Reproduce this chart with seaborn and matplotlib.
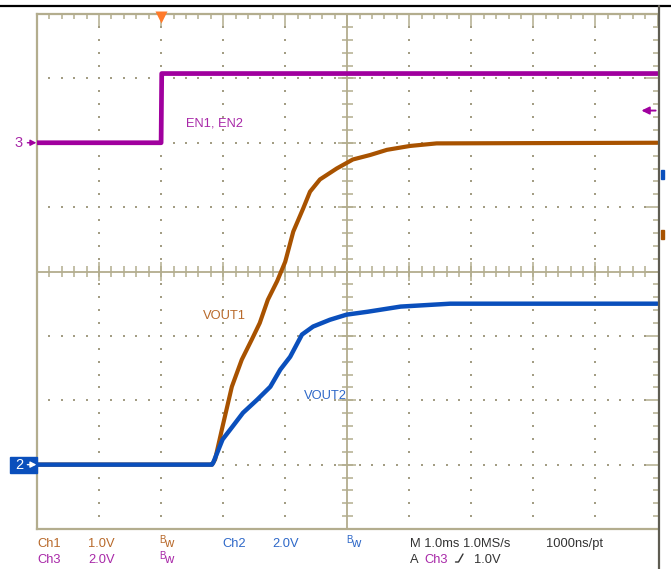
import numpy as np
import pandas as pd
import seaborn as sns
import matplotlib.pyplot as plt
from matplotlib.patches import Rectangle
from matplotlib.lines import Line2D
from matplotlib.transforms import blended_transform_factory

# scope settings (volts per division, ground offset in divisions)
ch1_scale, ch1_offset = 1.0, -3.0
ch2_scale, ch2_offset = 2.0, -3.0
ch3_scale, ch3_offset = 2.0, 2.0
trig_level = 1.0  # V on Ch3

# time in ms (trigger at 0), values in volts
en_t = [-2.0, 0.0, 0.01, 8.0]
en_v = [0.0, 0.0, 2.15, 2.15]

vout1_t = [-2.0, 0.82, 0.87, 0.99, 1.14, 1.30, 1.46, 1.59, 1.72, 1.87, 2.00,
           2.13, 2.29, 2.40, 2.56, 2.83, 3.09, 3.37, 3.64, 4.01, 4.44, 8.0]
vout1_v = [0.0, 0.0, 0.08, 0.59, 1.21, 1.63, 1.94, 2.20, 2.56, 2.85, 3.15,
           3.62, 3.98, 4.24, 4.43, 4.60, 4.74, 4.81, 4.89, 4.95, 4.99, 5.0]

vout2_t = [-2.0, 0.82, 0.84, 0.99, 1.15, 1.32, 1.55, 1.76, 1.92, 2.08, 2.27,
           2.45, 2.72, 2.99, 3.33, 3.86, 4.66, 8.0]
vout2_v = [0.0, 0.0, 0.06, 0.78, 1.18, 1.61, 2.02, 2.42, 2.95, 3.35, 4.04,
           4.29, 4.50, 4.66, 4.75, 4.91, 5.0, 5.0]

tan = "#b3ad8e"
dot = "#a39d84"
c_orange, c_orange_txt = "#a85200", "#b8692a"
c_blue, c_blue_txt = "#0a4fbc", "#2e68c8"
c_purple, c_purple_txt = "#a0009e", "#a828a8"

sns.set_style("white")
plt.rcParams["font.family"] = ["Liberation Sans", "DejaVu Sans"]

W, H = 671, 569
fig = plt.figure(figsize=(W / 100, H / 100), dpi=100)
ax = fig.add_axes([37 / W, 1 - 529 / H, 620.5 / W, 515 / H])
ax.set_xlim(-2, 8)
ax.set_ylim(-4, 4)

# graticule
ax.set_xticks(np.arange(-2, 8.01, 1))
ax.set_xticks(np.arange(-2, 8.01, 0.2), minor=True)
ax.set_yticks(np.arange(-4, 4.01, 1))
ax.set_yticks(np.arange(-4, 4.01, 0.2), minor=True)
ax.tick_params(which="both", direction="in", color=tan, width=1.1,
               top=True, right=True, labelbottom=False, labelleft=False)
ax.tick_params(which="major", length=8.6)
ax.tick_params(which="minor", length=3.6)
for s in ["top", "bottom", "left"]:
    ax.spines[s].set_color(tan)
    ax.spines[s].set_linewidth(1.6)
ax.spines["right"].set_visible(False)

minor_x = np.round(np.arange(-1.8, 8, 0.2), 2)
minor_y = np.round(np.arange(-3.8, 4, 0.2), 2)
for gx in [-1, 0, 1, 2, 4, 5, 6, 7]:
    ax.scatter(np.full(len(minor_y), gx), minor_y, s=1.6, marker="s",
               color=dot, linewidths=0, zorder=1)
for gy in [-3, -2, -1, 1, 2, 3]:
    ax.scatter(minor_x, np.full(len(minor_x), gy), s=1.6, marker="s",
               color=dot, linewidths=0, zorder=1)

ax.axvline(3, color=tan, lw=1.3, zorder=1)
ax.axhline(0, color=tan, lw=1.3, zorder=1)
ax.hlines(minor_y, 3 - 0.089, 3 + 0.089, color=tan, lw=1.1, zorder=1)
ax.hlines(np.arange(-3, 4, 1), 3 - 0.145, 3 + 0.145, color=tan, lw=1.1, zorder=1)
ax.vlines(minor_x, -0.085, 0.085, color=tan, lw=1.1, zorder=1)
ax.vlines(np.arange(-1, 8, 1), -0.14, 0.14, color=tan, lw=1.1, zorder=1)

# traces
df = pd.concat([
    pd.DataFrame({"t": en_t, "div": np.array(en_v) / ch3_scale + ch3_offset, "ch": "EN"}),
    pd.DataFrame({"t": vout1_t, "div": np.array(vout1_v) / ch1_scale + ch1_offset, "ch": "VOUT1"}),
    pd.DataFrame({"t": vout2_t, "div": np.array(vout2_v) / ch2_scale + ch2_offset, "ch": "VOUT2"}),
])
for ch, col, lw in [("EN", c_purple, 3.4), ("VOUT1", c_orange, 3.0), ("VOUT2", c_blue, 3.2)]:
    sns.lineplot(data=df[df["ch"] == ch], x="t", y="div", color=col, lw=lw,
                 sort=False, estimator=None, ax=ax, zorder=3)
ax.set_xlabel("")
ax.set_ylabel("")

ax.text(0.40, 2.25, "EN1, EN2", color=c_purple_txt, fontsize=9.3)
ax.text(0.68, -0.74, "VOUT1", color=c_orange_txt, fontsize=9.3)
ax.text(2.30, -1.98, "VOUT2", color=c_blue_txt, fontsize=9.3)

# trigger position marker
ax.plot([0], [3.955], marker="v", ms=9, color="#ff7a2a", mec="none",
        clip_on=False, zorder=5)

# ground markers
bl = blended_transform_factory(ax.transAxes, ax.transData)
arrow = dict(arrowstyle="-|>,head_length=0.35,head_width=0.18",
             lw=1, shrinkA=0, shrinkB=0)
ax.text(-0.029, ch3_offset, "3", color=c_purple_txt, fontsize=10.5,
        transform=bl, ha="center", va="center")
ax.annotate("", xy=(-0.001, ch3_offset), xytext=(-0.0155, ch3_offset),
            xycoords=bl, textcoords=bl, arrowprops=dict(arrow, color=c_purple))
ax.add_patch(Rectangle((-0.0435, ch2_offset - 0.125), 0.0435, 0.25,
                       transform=bl, color=c_blue, clip_on=False, zorder=4))
ax.text(-0.029, ch2_offset, "2", color="white", fontsize=10.5,
        transform=bl, ha="center", va="center", zorder=5)
ax.annotate("", xy=(-0.001, ch2_offset), xytext=(-0.0155, ch2_offset),
            xycoords=bl, textcoords=bl, arrowprops=dict(arrow, color="white"),
            zorder=5)

# trigger level marker on the right
trig_div = trig_level / ch3_scale + ch3_offset
ax.annotate("", xy=(0.974, trig_div), xytext=(0.997, trig_div),
            xycoords=bl, textcoords=bl,
            arrowprops=dict(arrowstyle="-|>,head_length=0.45,head_width=0.22",
                            color=c_purple, lw=1.4, shrinkA=0, shrinkB=0))
ax.add_patch(Rectangle((1.005, 1.44), 0.005, 0.14, transform=bl,
                       color=c_blue, clip_on=False))
ax.add_patch(Rectangle((1.005, 0.50), 0.005, 0.15, transform=bl,
                       color=c_orange, clip_on=False))


def px(x, y):
    return x / W, 1 - y / H


# screen edges
fig.add_artist(Line2D([0, 1], [1 - 6 / H] * 2, color="black", lw=1.6))
fig.add_artist(Line2D([658.5 / W] * 2, [0, 1 - 6 / H], color="#5e5c52", lw=1.6))

# readout
fs = 9.3


def label(x, y, s, c):
    fig.text(*px(x, y), s, color=c, fontsize=fs, va="baseline")


def bw(x, y, c):
    fig.text(*px(x, y - 4), "B", color=c, fontsize=7, va="baseline")
    fig.text(*px(x + 5.5, y), "w", color=c, fontsize=fs, va="baseline")


label(37, 547, "Ch1", c_orange_txt)
label(88, 547, "1.0V", c_orange_txt)
bw(159, 547, c_orange_txt)
label(222, 547, "Ch2", c_blue_txt)
label(272, 547, "2.0V", c_blue_txt)
bw(346, 547, c_blue_txt)
label(410, 547, "M 1.0ms 1.0MS/s", "#333333")
label(546, 547, "1000ns/pt", "#333333")

label(37, 563, "Ch3", c_purple_txt)
label(88, 563, "2.0V", c_purple_txt)
bw(159, 563, c_purple_txt)
label(410, 563, "A", "#333333")
label(424, 563, "Ch3", c_purple_txt)
fig.add_artist(Line2D([455.5 / W, 458.5 / W, 463 / W],
                      [1 - 562 / H, 1 - 562 / H, 1 - 554 / H],
                      color="#333333", lw=1))
label(474, 563, "1.0V", "#333333")

fig.savefig("out.png", dpi=100)
